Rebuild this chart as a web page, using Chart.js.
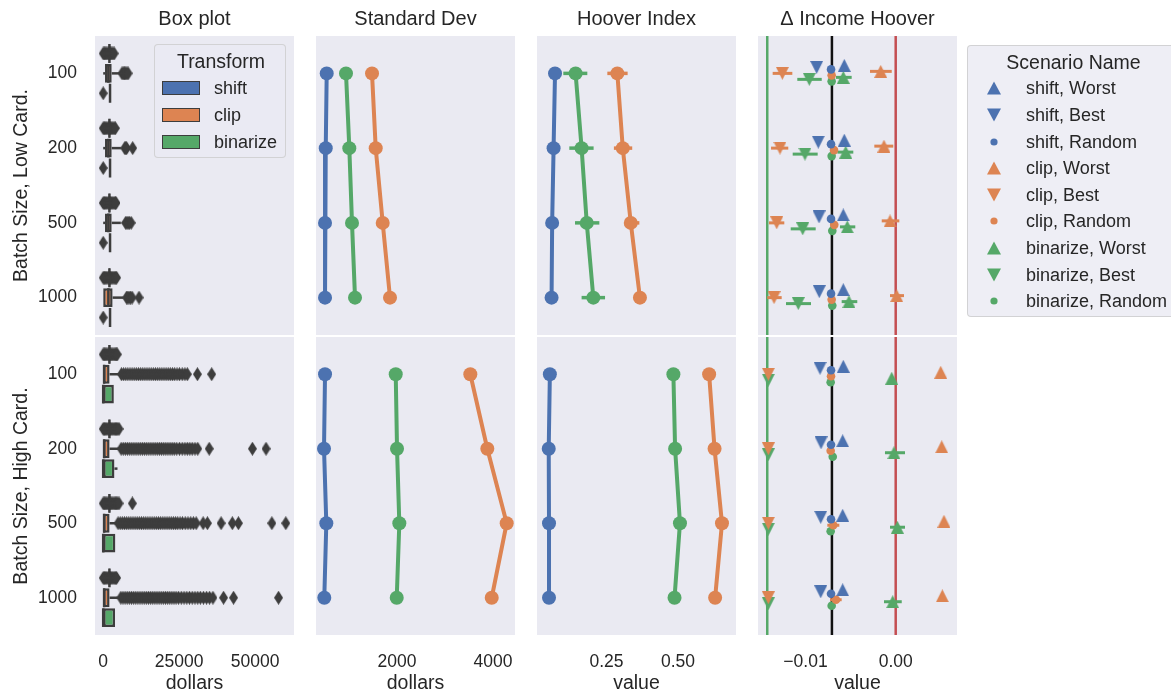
<!DOCTYPE html>
<html lang="en">
<head>
<meta charset="utf-8">
<title>Income transforms by batch size</title>
<script src="https://cdn.jsdelivr.net/npm/chart.js@4.4.1/dist/chart.umd.min.js"></script>
<style>
  html, body { margin: 0; padding: 0; background: #ffffff; }
  #wrap { position: relative; width: 1171px; height: 694px; overflow: hidden;
          font-family: "Liberation Sans", Arial, Helvetica, sans-serif; color: #262626; }
  #wrap canvas { position: absolute; left: 0; top: 0; }
  .legend { position: absolute; box-sizing: border-box; border: 1px solid rgba(204,204,204,0.8);
            border-radius: 4px; background: rgba(234,234,242,0.8); }
  .legend .ttl { position: absolute; text-align: center; font-size: 19.5px; line-height: 24px; }
  .legend .row { position: absolute; font-size: 18px; line-height: 22px; white-space: nowrap; }
  .legend .patch { position: absolute; box-sizing: border-box; border: 1.5px solid #3d3d3d; }
  .legend svg { position: absolute; overflow: visible; }
</style>
</head>
<body>
<div id="wrap">
  <div class="legend" id="lgTransform" style="left:154px;top:44px;width:132px;height:114px;z-index:5">
    <div class="ttl" style="left:0;width:132px;top:4px">Transform</div>
  </div>
  <div class="legend" id="lgScenario" style="left:967px;top:45px;width:240px;height:272px;z-index:5">
    <div class="ttl" style="left:0;width:211px;top:4px">Scenario Name</div>
  </div>
</div>
<script>
// ---------------------------------------------------------------- data
const batchSizes = ['100', '200', '500', '1000'];
const rowNames = ['Batch Size, Low Card.', 'Batch Size, High Card.'];
const colTitles = ['Box plot', 'Standard Dev', 'Hoover Index', '\u0394 Income Hoover'];
const transforms = ['shift', 'clip', 'binarize'];
const scenarioNames = ['shift, Worst', 'shift, Best', 'shift, Random',
                       'clip, Worst', 'clip, Best', 'clip, Random',
                       'binarize, Worst', 'binarize, Best', 'binarize, Random'];

// x-axis ticks per column
const boxTicks = [0, 25000, 50000];
const boxTickLabels = ['0', '25000', '50000'];
const stdTicks = [2000, 4000];
const stdTickLabels = ['2000', '4000'];
const hooverTicks = [0.25, 0.5];
const hooverTickLabels = ['0.25', '0.50'];
const deltaTicks = [-0.01, 0];
const deltaTickLabels = ['\u22120.01', '0.00'];
const axisTitles = ['dollars', 'dollars', 'value', 'value'];

// box statistics per batch size: [q1, median, q3, lower whisker, upper whisker] (dollars)
const boxShiftLow = [[1800, 2050, 2300, 1800, 2300], [1800, 2050, 2300, 1800, 2300],
                     [1800, 2050, 2300, 1800, 2300], [1800, 2050, 2300, 1800, 2300]];
const boxClipLow = [[600, 1700, 2800, 0, 5500], [600, 1700, 2800, 0, 5800],
                    [600, 1700, 2800, 0, 5800], [0, 1700, 3100, 0, 6500]];
const boxBinLow = [[2150, 2250, 2350, 2150, 2350], [2150, 2250, 2350, 2150, 2350],
                   [2150, 2250, 2350, 2150, 2350], [2150, 2250, 2350, 2150, 2350]];
const boxShiftHigh = [[1800, 2050, 2300, 1800, 2300], [1800, 2050, 2300, 1800, 2300],
                      [1800, 2050, 2300, 1800, 2300], [1800, 2050, 2300, 1800, 2300]];
const boxClipHigh = [[0, 300, 2100, 0, 5800], [0, 300, 2100, 0, 5800],
                     [0, 300, 2100, 0, 5000], [0, 300, 2100, 0, 5700]];
const boxBinHigh = [[0, 0, 3500, 0, 3500], [0, 0, 3700, 0, 4700],
                    [0, 0, 4000, 0, 4000], [0, 0, 3900, 0, 3900]];

// outliers per batch size (dollars)
const outShiftLow = [
  [0, 400, 800, 1200, 1600, 2000, 2400, 2800, 3200, 3600],
  [0, 400, 800, 1200, 1600, 2000, 2400, 2800, 3200, 3600, 4000],
  [0, 400, 800, 1200, 1600, 2000, 2400, 2800, 3200, 3600, 4000, 4200],
  [0, 400, 800, 1200, 1600, 2000, 2400, 2800, 3200, 3600, 4000, 4400]
];
const outClipLow = [
  [6200, 6600, 7000, 7400, 7800, 8200],
  [7100, 7400, 7700, 9700],
  [7400, 7800, 8200, 8600, 9200],
  [7700, 8100, 8500, 9000, 9500, 11800]
];
const outBinLow = [[0], [0], [0], [0]];
const outShiftHigh = [
  [0, 400, 800, 1200, 1600, 2000, 2400, 2800, 3200, 3600, 4000, 4400, 4600],
  [0, 400, 800, 1200, 1600, 2000, 2400, 2800, 3200, 3600, 4000, 4400, 4800, 5200],
  [0, 400, 800, 1200, 1600, 2000, 2400, 2800, 3200, 3600, 4000, 4400, 4800, 5200, 9600],
  [0, 400, 800, 1200, 1600, 2000, 2400, 2800, 3200, 3600, 4000, 4400]
];
const outClipHigh = [
  [6000, 6700, 7400, 8100, 8800, 9500, 10200, 10900, 11600, 12300, 13000, 13700, 14400, 15100,
   15800, 16500, 17200, 17900, 18600, 19300, 20000, 20700, 21400, 22100, 22800, 23500, 24300,
   25100, 26000, 26900, 27700, 31000, 35700],
  [5900, 6600, 7300, 8000, 8700, 9400, 10100, 10800, 11500, 12200, 12900, 13600, 14300, 15000,
   15700, 16400, 17100, 17800, 18500, 19200, 19900, 20600, 21300, 22000, 22700, 23400, 24200,
   25100, 26000, 26900, 27700, 28500, 29300, 30200, 31100, 34900, 49100, 53600],
  [4900, 5600, 6300, 7000, 7700, 8400, 9100, 9800, 10500, 11200, 11900, 12600, 13300, 14000,
   14700, 15400, 16100, 16800, 17500, 18200, 18900, 19600, 20300, 21000, 21700, 22400, 23100,
   23800, 24500, 25300, 26100, 27000, 27900, 28800, 29700, 30600, 32900, 34300, 38800, 42500,
   44500, 55500, 60100],
  [5800, 6500, 7200, 7900, 8600, 9300, 10000, 10700, 11400, 12100, 12800, 13500, 14200, 14900,
   15600, 16300, 17000, 17700, 18400, 19100, 19800, 20500, 21200, 21900, 22600, 23300, 24000,
   24800, 25700, 26600, 27500, 28400, 29300, 30200, 31100, 32000, 33000, 34000, 35000, 36100,
   39600, 42900, 57700]
];
const outBinHigh = [[], [], [], []];

// standard deviation of income (dollars)
const stdShiftLow = [535, 515, 500, 500];
const stdClipLow = [1479, 1556, 1702, 1854];
const stdBinLow = [937, 1006, 1062, 1125];
const stdShiftHigh = [500, 479, 527, 485];
const stdClipHigh = [3527, 3881, 4285, 3973];
const stdBinHigh = [1973, 2000, 2048, 1994];

// Hoover index with confidence intervals (null where negligible)
const hooverShiftLow = [0.070, 0.065, 0.060, 0.058];
const hooverClipLow = [0.288, 0.307, 0.335, 0.367];
const hooverBinLow = [0.142, 0.163, 0.181, 0.204];
const hooverClipLowCI = [[0.253, 0.324], [0.276, 0.340], [0.315, 0.365], null];
const hooverBinLowCI = [[0.099, 0.183], [0.120, 0.205], [0.140, 0.225], [0.163, 0.245]];
const hooverShiftHigh = [0.052, 0.048, 0.049, 0.049];
const hooverClipHigh = [0.609, 0.628, 0.654, 0.630];
const hooverBinHigh = [0.484, 0.490, 0.507, 0.488];

// change in income Hoover index, one row per scenario (in scenarioNames order)
const deltaLow = [
  [-0.00570, -0.00570, -0.00581, -0.00581],
  [-0.00876, -0.00858, -0.00850, -0.00847],
  [-0.00717, -0.00717, -0.00717, -0.00717],
  [-0.00166, -0.00130, -0.00063, 0.00011],
  [-0.01257, -0.01283, -0.01319, -0.01349],
  [-0.00710, -0.00684, -0.00681, -0.00710],
  [-0.00581, -0.00554, -0.00537, -0.00518],
  [-0.00958, -0.01006, -0.01031, -0.01080],
  [-0.00710, -0.00710, -0.00703, -0.00703]
];
const deltaLowCI = [
  [null, null, null, null],
  [null, null, null, null],
  [null, null, null, null],
  [[-0.00285, -0.00044], [-0.00237, -0.00027], [-0.00155, 0.00040], [-0.00063, 0.00092]],
  [[-0.01364, -0.01146], [-0.01382, -0.01191], [-0.01405, -0.01235], [-0.01424, -0.01264]],
  [null, null, null, null],
  [[-0.00662, -0.00488], [-0.00647, -0.00470], [-0.00618, -0.00448], [-0.00599, -0.00426]],
  [[-0.01091, -0.00820], [-0.01142, -0.00865], [-0.01164, -0.00887], [-0.01216, -0.00939]],
  [null, null, null, null]
];
const deltaHigh = [
  [-0.00581, -0.00588, -0.00588, -0.00588],
  [-0.00839, -0.00828, -0.00831, -0.00831],
  [-0.00717, -0.00717, -0.00717, -0.00717],
  [0.00499, 0.00510, 0.00535, 0.00517],
  [-0.01412, -0.01412, -0.01412, -0.01412],
  [-0.00717, -0.00721, -0.00692, -0.00662],
  [-0.00044, -0.00019, 0.00018, -0.00033],
  [-0.01412, -0.01412, -0.01412, -0.01412],
  [-0.00721, -0.00698, -0.00721, -0.00710]
];
const deltaHighCI = [
  [null, null, null, null],
  [null, null, null, null],
  [null, null, null, null],
  [null, null, null, null],
  [null, null, null, null],
  [null, null, [-0.00758, -0.00625], [-0.00728, -0.00599]],
  [null, [-0.00119, 0.00103], [-0.00063, 0.00103], [-0.00130, 0.00067]],
  [null, null, null, null],
  [null, null, null, null]
];
// reference lines on the change panels
const deltaRefValues = [-0.01424, -0.00707, 0];

// ---------------------------------------------------------------- styling / layout
const W = 1171, H = 694;
const colLeft = [95, 316, 537, 758];
const panelW = 199;
const rowTop = [36, 337];
const rowBottom = [335, 635];
const xRanges = [[-2700, 62800], [312, 4458], [0.007, 0.703], [-0.015266, 0.006796]];

const TEXT = '#262626';
const EDGE = '#3d3d3d';
const PANEL_BG = '#EAEAF2';
const hueColors = ['#4C72B0', '#DD8452', '#55A868'];
const refColors = ['#55A868', '#111111', '#C44E52'];
const hueOffset = [-0.2667, 0, 0.2667];   // dodge of the three boxes within a batch size
const boxHalf = 0.1267;                    // half box height in category units
const scenarioStep = 0.0267;               // dodge between scenario markers

Chart.defaults.font.family = '"Liberation Sans", Arial, Helvetica, sans-serif';
Chart.defaults.color = TEXT;
Chart.defaults.animation = false;

// marker images
function diamondImage(w, h, color) {
  const c = document.createElement('canvas');
  c.width = w; c.height = h;
  const g = c.getContext('2d');
  g.fillStyle = color;
  g.beginPath();
  g.moveTo(w / 2, 0); g.lineTo(w, h / 2); g.lineTo(w / 2, h); g.lineTo(0, h / 2);
  g.closePath(); g.fill();
  return c;
}
function triangleImage(size, color, up) {
  const c = document.createElement('canvas');
  c.width = size; c.height = size;
  const g = c.getContext('2d');
  g.fillStyle = color;
  g.beginPath();
  if (up) { g.moveTo(size / 2, 0); g.lineTo(size, size); g.lineTo(0, size); }
  else { g.moveTo(0, 0); g.lineTo(size, 0); g.lineTo(size / 2, size); }
  g.closePath(); g.fill();
  return c;
}
const flierMarker = diamondImage(9, 14, EDGE);

// panel background
const panelBg = {
  id: 'panelBg',
  beforeDraw(chart) {
    const a = chart.chartArea, ctx = chart.ctx;
    ctx.save();
    ctx.fillStyle = PANEL_BG;
    ctx.fillRect(a.left, a.top, a.right - a.left, a.bottom - a.top);
    ctx.restore();
  }
};

function seg(x0, y0, x1, y1, color, width, order) {
  return {
    type: 'scatter', showLine: true, xAxisID: 'x', yAxisID: 'yv',
    data: [{x: x0, y: y0}, {x: x1, y: y1}],
    borderColor: color, backgroundColor: color, borderWidth: width,
    borderCapStyle: 'butt', pointRadius: 0, pointHoverRadius: 0, order: order
  };
}

const wrap = document.getElementById('wrap');

function makePanel(col, row, type, datasets) {
  const canvas = document.createElement('canvas');
  canvas.width = W; canvas.height = H;
  wrap.appendChild(canvas);
  const left = colLeft[col], right = left + panelW;
  const top = rowTop[row], bottom = rowBottom[row];
  const hasCat = col === 0;
  const yAxisW = hasCat ? left : 0;
  const titleH = row === 0 ? top : 0;
  const xAxisH = row === 1 ? H - bottom : 0;
  const tickSets = [[boxTicks, boxTickLabels], [stdTicks, stdTickLabels],
                    [hooverTicks, hooverTickLabels], [deltaTicks, deltaTickLabels]];
  const [tv, tl] = tickSets[col];

  const scales = {
    x: {
      type: 'linear', position: 'bottom', min: xRanges[col][0], max: xRanges[col][1],
      offset: false, display: row === 1,
      grid: {display: false, drawTicks: false, offset: false}, border: {display: false},
      ticks: {font: {size: 17.5}, color: TEXT, padding: 17, maxRotation: 0, autoSkip: false,
              callback: (v, i) => tl[i]},
      afterBuildTicks: s => { s.ticks = tv.map(v => ({value: v})); },
      afterFit: s => { s.height = xAxisH; s.paddingLeft = 0; s.paddingRight = 0; },
      title: {display: true, text: axisTitles[col], color: TEXT,
              font: {size: 19.5, lineHeight: 1.1}, padding: {top: 0, bottom: 0}}
    },
    yv: {type: 'linear', position: 'left', min: -0.5, max: 3.5, reverse: true,
         offset: false, display: false}
  };
  if (hasCat) {
    scales.yc = {
      type: 'category', position: 'left', labels: batchSizes, offset: true,
      grid: {display: false, drawTicks: false}, border: {display: false},
      ticks: {font: {size: 17.5}, color: TEXT, padding: 18},
      afterFit: s => { s.width = yAxisW; s.paddingTop = 0; s.paddingBottom = 0; },
      title: {display: true, text: rowNames[row], color: TEXT,
              font: {size: 19.5, lineHeight: 1.1}, padding: {top: 10.5, bottom: 0}}
    };
  }

  return new Chart(canvas, {
    type: type,
    data: {labels: batchSizes, datasets: datasets},
    options: {
      responsive: false, maintainAspectRatio: false, animation: false, events: [],
      layout: {padding: {left: left - yAxisW, right: W - right,
                         top: top - titleH, bottom: H - bottom - xAxisH}},
      scales: scales,
      plugins: {
        legend: {display: false}, tooltip: {enabled: false},
        title: {display: row === 0, text: colTitles[col], color: TEXT, fullSize: false,
                font: {size: 20, weight: 'normal', lineHeight: 1.2}, padding: {top: 7, bottom: 5}}
      }
    },
    plugins: [panelBg]
  });
}

// ---------------------------------------------------------------- box plots
function boxDatasets(stats, outliers) {
  const ds = [];
  stats.forEach((st, h) => {
    ds.push({
      type: 'bar', label: transforms[h], indexAxis: 'y', xAxisID: 'x', yAxisID: 'yc',
      data: st.map(s => [s[0], s[2]]),
      backgroundColor: hueColors[h], borderColor: EDGE, borderWidth: 2.5, borderSkipped: false,
      barPercentage: 0.95, categoryPercentage: 0.8, order: 3
    });
  });
  stats.forEach((st, h) => {
    st.forEach((s, i) => {
      const y = i + hueOffset[h];
      if (s[3] < s[0]) ds.push(seg(s[3], y, s[0], y, EDGE, 2.5, 2));
      if (s[4] > s[2]) ds.push(seg(s[2], y, s[4], y, EDGE, 2.5, 2));
      ds.push(seg(s[1], y - boxHalf, s[1], y + boxHalf, EDGE, 2.5, 2));
    });
    ds.push({
      type: 'scatter', xAxisID: 'x', yAxisID: 'yv',
      data: outliers[h].flatMap((arr, i) => arr.map(v => ({x: v, y: i + hueOffset[h]}))),
      pointStyle: flierMarker, pointRadius: 5, pointHoverRadius: 5, order: 1
    });
  });
  return ds;
}

// ---------------------------------------------------------------- point plots
function pointDatasets(series, cis) {
  const ds = [];
  series.forEach((vals, h) => {
    ds.push({
      type: 'scatter', showLine: true, xAxisID: 'x', yAxisID: 'yv',
      data: vals.map((v, i) => ({x: v, y: i})),
      borderColor: hueColors[h], backgroundColor: hueColors[h], borderWidth: 4,
      pointRadius: 7, pointBorderWidth: 0, pointHoverRadius: 7, order: 2
    });
    (cis[h] || []).forEach((ci, i) => {
      if (ci) ds.push(seg(ci[0], i, ci[1], i, hueColors[h], 3.5, 1));
    });
  });
  return ds;
}

// ---------------------------------------------------------------- change in Hoover
const scenarioMarkers = scenarioNames.map((n, k) => {
  const color = hueColors[Math.floor(k / 3)];
  const kind = k % 3;
  if (kind === 0) return {style: triangleImage(13, color, true), r: 6};
  if (kind === 1) return {style: triangleImage(13, color, false), r: 6};
  return {style: 'circle', r: 4.3};
});

function deltaDatasets(means, cis) {
  const ds = [];
  deltaRefValues.forEach((v, j) => ds.push(seg(v, -0.5, v, 3.5, refColors[j], 2.5, 5)));
  means.forEach((vals, k) => {
    const color = hueColors[Math.floor(k / 3)];
    const off = (k - 4) * scenarioStep;
    cis[k].forEach((ci, i) => {
      if (ci) ds.push(seg(ci[0], i + off, ci[1], i + off, color, 3, 1));
    });
    ds.push({
      type: 'scatter', label: scenarioNames[k], xAxisID: 'x', yAxisID: 'yv',
      data: vals.map((v, i) => ({x: v, y: i + off})),
      pointStyle: scenarioMarkers[k].style, pointRadius: scenarioMarkers[k].r,
      pointHoverRadius: scenarioMarkers[k].r, pointBorderWidth: 0,
      backgroundColor: color, borderColor: color, order: 0
    });
  });
  return ds;
}

// ---------------------------------------------------------------- build panels
makePanel(0, 0, 'bar', boxDatasets([boxShiftLow, boxClipLow, boxBinLow], [outShiftLow, outClipLow, outBinLow]));
makePanel(0, 1, 'bar', boxDatasets([boxShiftHigh, boxClipHigh, boxBinHigh], [outShiftHigh, outClipHigh, outBinHigh]));
makePanel(1, 0, 'scatter', pointDatasets([stdShiftLow, stdClipLow, stdBinLow], []));
makePanel(1, 1, 'scatter', pointDatasets([stdShiftHigh, stdClipHigh, stdBinHigh], []));
makePanel(2, 0, 'scatter', pointDatasets([hooverShiftLow, hooverClipLow, hooverBinLow], [null, hooverClipLowCI, hooverBinLowCI]));
makePanel(2, 1, 'scatter', pointDatasets([hooverShiftHigh, hooverClipHigh, hooverBinHigh], []));
makePanel(3, 0, 'scatter', deltaDatasets(deltaLow, deltaLowCI));
makePanel(3, 1, 'scatter', deltaDatasets(deltaHigh, deltaHighCI));

// ---------------------------------------------------------------- legends
const lgT = document.getElementById('lgTransform');
transforms.forEach((t, h) => {
  const cy = 43 + 27 * h;
  const p = document.createElement('div');
  p.className = 'patch';
  p.style.cssText = `left:7px;top:${cy - 7}px;width:38px;height:14px;background:${hueColors[h]}`;
  lgT.appendChild(p);
  const r = document.createElement('div');
  r.className = 'row';
  r.style.cssText = `left:59px;top:${cy - 11}px`;
  r.textContent = t;
  lgT.appendChild(r);
});

const lgS = document.getElementById('lgScenario');
const SVGNS = 'http://www.w3.org/2000/svg';
scenarioNames.forEach((name, k) => {
  const cy = 42.3 + 26.6 * k;
  const color = hueColors[Math.floor(k / 3)];
  const kind = k % 3;
  const svg = document.createElementNS(SVGNS, 'svg');
  svg.setAttribute('width', '16'); svg.setAttribute('height', '16');
  svg.style.left = (25.7 - 8) + 'px';
  svg.style.top = (cy - 8) + 'px';
  let shape;
  if (kind === 2) {
    shape = document.createElementNS(SVGNS, 'circle');
    shape.setAttribute('cx', '8'); shape.setAttribute('cy', '8'); shape.setAttribute('r', '3.6');
  } else {
    shape = document.createElementNS(SVGNS, 'polygon');
    shape.setAttribute('points', kind === 0 ? '8,1.5 15,14.5 1,14.5' : '1,1.5 15,1.5 8,14.5');
  }
  shape.setAttribute('fill', color);
  svg.appendChild(shape);
  lgS.appendChild(svg);
  const r = document.createElement('div');
  r.className = 'row';
  r.style.cssText = `left:58px;top:${cy - 11}px`;
  r.textContent = name;
  lgS.appendChild(r);
});
</script>
</body>
</html>
